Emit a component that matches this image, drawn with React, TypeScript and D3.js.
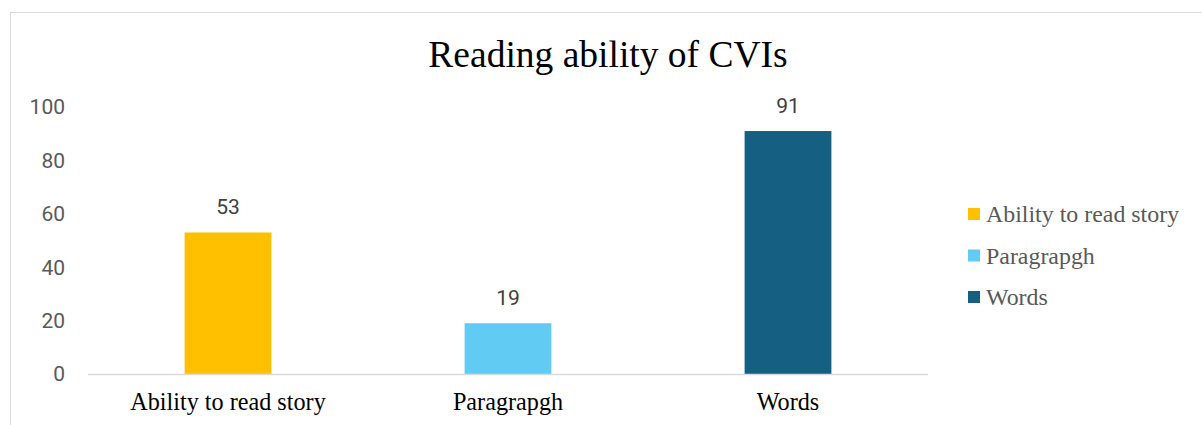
import { useEffect, useRef } from 'react'
import * as d3 from 'd3'

const categories = ['Ability to read story', 'Paragrapgh', 'Words']
const values = [53, 19, 91]
const colors = ['#FFC000', '#61CBF3', '#156082']
const yTicks = [0, 20, 40, 60, 80, 100]

const width = 1202
const height = 425

export default function App() {
  const svgRef = useRef<SVGSVGElement>(null)

  useEffect(() => {
    if (!svgRef.current) return
    const svg = d3.select(svgRef.current)
    svg.selectAll('*').remove()

    // chart frame (cropped on right and bottom)
    svg.append('rect')
      .attr('x', 10.5)
      .attr('y', 12.5)
      .attr('width', width + 20)
      .attr('height', height + 20)
      .attr('fill', '#fff')
      .attr('stroke', '#d9d9d9')
      .attr('stroke-width', 1)

    const x = d3.scaleBand<string>()
      .domain(categories)
      .range([88, 928])
      .paddingInner(0.69)
      .paddingOuter(0.345)

    const y = d3.scaleLinear()
      .domain([0, 100])
      .range([374, 107])

    svg.append('text')
      .attr('x', 608)
      .attr('y', 67)
      .attr('text-anchor', 'middle')
      .style('font-family', '"Liberation Serif", "Times New Roman", serif')
      .style('font-size', '37.5px')
      .style('fill', '#000')
      .text('Reading ability of CVIs')

    // y tick labels
    svg.append('g')
      .selectAll('text')
      .data(yTicks)
      .join('text')
      .attr('x', 65)
      .attr('y', d => y(d))
      .attr('dy', '0.35em')
      .attr('text-anchor', 'end')
      .style('font-family', 'Roboto, "Noto Sans", sans-serif')
      .style('font-size', '21px')
      .style('fill', '#595959')
      .text(d => d)

    // bars
    svg.append('g')
      .selectAll('rect')
      .data(values)
      .join('rect')
      .attr('x', (_, i) => x(categories[i])!)
      .attr('y', d => y(d))
      .attr('width', x.bandwidth())
      .attr('height', d => y(0) - y(d))
      .attr('fill', (_, i) => colors[i])

    // baseline
    svg.append('line')
      .attr('x1', 88)
      .attr('x2', 928)
      .attr('y1', y(0) + 0.5)
      .attr('y2', y(0) + 0.5)
      .attr('stroke', '#d9d9d9')
      .attr('stroke-width', 1.5)

    // value labels
    svg.append('g')
      .selectAll('text')
      .data(values)
      .join('text')
      .attr('x', (_, i) => x(categories[i])! + x.bandwidth() / 2)
      .attr('y', d => y(d) - 18)
      .attr('text-anchor', 'middle')
      .style('font-family', 'Roboto, "Noto Sans", sans-serif')
      .style('font-size', '21px')
      .style('fill', '#404040')
      .text(d => d)

    // category labels
    svg.append('g')
      .selectAll('text')
      .data(categories)
      .join('text')
      .attr('x', d => x(d)! + x.bandwidth() / 2)
      .attr('y', 410)
      .attr('text-anchor', 'middle')
      .style('font-family', '"Liberation Serif", "Times New Roman", serif')
      .style('font-size', '24.2px')
      .style('fill', '#000')
      .text(d => d)

    // legend
    const legend = svg.append('g')
    categories.forEach((c, i) => {
      const ly = 214 + i * 41.5
      legend.append('rect')
        .attr('x', 968)
        .attr('y', ly - 6)
        .attr('width', 12)
        .attr('height', 12)
        .attr('fill', colors[i])
      legend.append('text')
        .attr('x', 986)
        .attr('y', ly)
        .attr('dy', '0.35em')
        .style('font-family', '"Liberation Serif", "Times New Roman", serif')
        .style('font-size', '23.9px')
        .style('fill', '#595959')
        .text(c)
    })
  }, [])

  return (
    <svg
      ref={svgRef}
      width={width}
      height={height}
      style={{ position: 'absolute', left: 0, top: 0 }}
    />
  )
}
